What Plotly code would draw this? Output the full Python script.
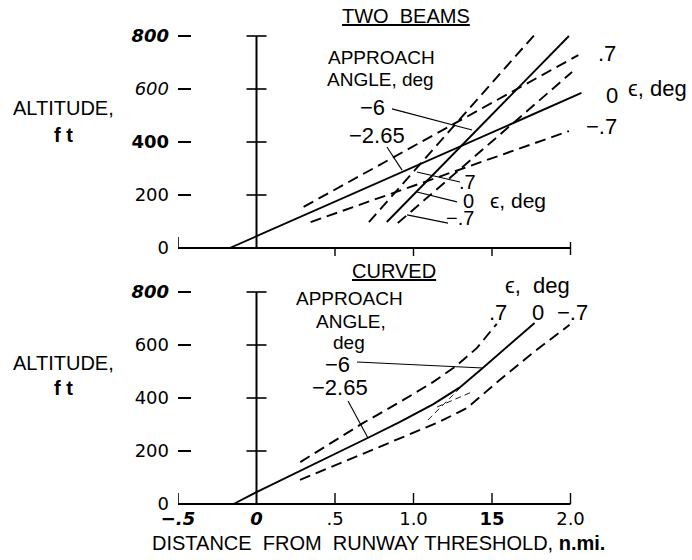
import plotly.graph_objects as go

W, H = 692, 560

# ---------------- tick data ----------------
y_tickvals = [0, 200, 400, 600, 800]
y_ticktext_top = ["0", "200", "<b>400</b>", "<i>600</i>", "<b><i>800</i></b>"]
y_ticktext_bot = ["0", "200", "400", "600", "<b><i>800</i></b>"]
x_tickvals = [-0.5, 0, 0.5, 1.0, 1.5, 2.0]
x_ticktext = ["<b><i>−.5</i></b>", "<b><i>0</i></b>", ".5", "1.0", "<b>15</b>", "2.0"]
x_minor_ticks = [0.5, 1.0, 1.5, 2.0]
y_cross_ticks = [200, 400, 600, 800]

# ---------------- TWO BEAMS (distance n.mi., altitude ft) ----------------
beam265_e0_x = [-0.17, 2.07]
beam265_e0_y = [0, 585]
beam265_ep7_x = [0.30, 2.05]
beam265_ep7_y = [155, 728]
beam265_em7_x = [0.345, 1.99]
beam265_em7_y = [98, 441]
beam6_e0_x = [0.83, 1.99]
beam6_e0_y = [98, 800]
beam6_ep7_x = [0.716, 1.77]
beam6_ep7_y = [98, 804]
beam6_em7_x = [0.90, 2.01]
beam6_em7_y = [94, 664]

# leader lines (top)
lead_top_m6_x = [0.863, 1.373]
lead_top_m6_y = [525, 445]
lead_top_m265_x = [0.831, 0.927]
lead_top_m265_y = [381, 294]
lead_top_p7_x = [1.022, 1.296]
lead_top_p7_y = [287, 249]
lead_top_0_x = [1.022, 1.277]
lead_top_0_y = [211, 174]
lead_top_m7_x = [0.959, 1.220]
lead_top_m7_y = [125, 94]

# ---------------- CURVED ----------------
curve_e0_x = [-0.146, 0, 0.711, 0.914, 1.124, 1.295, 1.441, 1.613, 1.771]
curve_e0_y = [0, 45, 250, 310, 376, 440, 513, 600, 683]
curve_ep7_x = [0.279, 0.68, 0.914, 1.124, 1.263, 1.403, 1.530]
curve_ep7_y = [158, 306, 385, 460, 517, 588, 680]
curve_em7_x = [0.277, 0.914, 1.15, 1.34, 1.422, 1.549, 1.759, 1.994]
curve_em7_y = [91, 249, 306, 362, 404, 468, 570, 676]

# thin dashed construction strokes near the transition
thin1_x = [1.092, 1.315]
thin1_y = [317, 449]
thin2_x = [1.150, 1.373]
thin2_y = [366, 423]

# leader lines (bottom)
lead_bot_m6_x = [0.640, 1.443]
lead_bot_m6_y = [536, 513]
lead_bot_m265_x = [0.583, 0.710]
lead_bot_m265_y = [389, 249]

# ---------------- layout geometry ----------------
PX_PER_NMI = 157.0
X_LEFT_PX = 178
X0 = -0.5
X1 = X0 + (W - X_LEFT_PX) / PX_PER_NMI
K = 800 / 212.0  # ft per pixel

TOP_ZERO_PX, TOP_BOT_PX = 248, 258
BOT_ZERO_PX, BOT_TOP_PX, BOT_BOT_PX = 504, 265, 506

top_range = [(TOP_ZERO_PX - TOP_BOT_PX) * K, TOP_ZERO_PX * K]
bot_range = [(BOT_ZERO_PX - BOT_BOT_PX) * K, (BOT_ZERO_PX - BOT_TOP_PX) * K]

SANS = "Liberation Sans, Arial, sans-serif"
NUMF = "DejaVu Sans, sans-serif"

fig = go.Figure()

SOLID = dict(color="black", width=1.9)
DASH = dict(color="black", width=1.9, dash="11px,6px")
LEAD = dict(color="black", width=1.1)
THIN = dict(color="black", width=0.9, dash="6px,4px")


def add(x, y, line, ax):
    xa, ya = ("x", "y") if ax == 1 else ("x2", "y2")
    fig.add_trace(go.Scatter(x=x, y=y, mode="lines", line=line, xaxis=xa, yaxis=ya,
                             hoverinfo="skip", showlegend=False))


# top
add(beam265_e0_x, beam265_e0_y, SOLID, 1)
add(beam265_ep7_x, beam265_ep7_y, DASH, 1)
add(beam265_em7_x, beam265_em7_y, DASH, 1)
add(beam6_e0_x, beam6_e0_y, SOLID, 1)
add(beam6_ep7_x, beam6_ep7_y, DASH, 1)
add(beam6_em7_x, beam6_em7_y, DASH, 1)
for lx, ly in [(lead_top_m6_x, lead_top_m6_y), (lead_top_m265_x, lead_top_m265_y),
               (lead_top_p7_x, lead_top_p7_y), (lead_top_0_x, lead_top_0_y),
               (lead_top_m7_x, lead_top_m7_y)]:
    add(lx, ly, LEAD, 1)

# bottom
add(curve_e0_x, curve_e0_y, SOLID, 2)
add(curve_ep7_x, curve_ep7_y, DASH, 2)
add(curve_em7_x, curve_em7_y, DASH, 2)
add(thin1_x, thin1_y, THIN, 2)
add(thin2_x, thin2_y, THIN, 2)
add(lead_bot_m6_x, lead_bot_m6_y, LEAD, 2)
add(lead_bot_m265_x, lead_bot_m265_y, LEAD, 2)

# ---------------- frame shapes ----------------
shapes = []
for xr, yr, down in [("x", "y", True), ("x2", "y2", False)]:
    # baseline
    shapes.append(dict(type="line", xref=xr, yref=yr, x0=X0, x1=2.0, y0=0, y1=0,
                       line=dict(color="black", width=2)))
    # vertical axis at x = 0
    shapes.append(dict(type="line", xref=xr, yref=yr, x0=0, x1=0, y0=0, y1=800,
                       line=dict(color="black", width=2)))
    for yv in y_cross_ticks:
        shapes.append(dict(type="line", xref=xr, yref=yr, xsizemode="pixel", xanchor=0,
                           x0=-10, x1=10, y0=yv, y1=yv, line=dict(color="black", width=1.6)))
    # left end tick (up)
    shapes.append(dict(type="line", xref=xr, yref=yr, ysizemode="pixel", yanchor=0,
                       x0=X0, x1=X0, y0=0, y1=11, line=dict(color="black", width=1.6)))
    for xv in x_minor_ticks:
        if down:
            y0, y1 = (-7, 6) if xv == 2.0 else (-8, 0)
        else:
            y0, y1 = (0, 11)
        shapes.append(dict(type="line", xref=xr, yref=yr, ysizemode="pixel", yanchor=0,
                           x0=xv, x1=xv, y0=y0, y1=y1, line=dict(color="black", width=1.4)))

# ---------------- text ----------------
def P(px, py):
    return px / W, 1 - py / H

labels = [
    ("<u>TWO  BEAMS</u>", 406, 16, 20, SANS),
    ("APPROACH", 381, 58, 19, SANS),
    ("ANGLE, deg", 380, 80, 19, SANS),
    ("−6", 372, 108, 22, SANS),
    ("−2.65", 377, 135, 22, SANS),
    (".7", 467, 182, 20, SANS),
    ("0", 468, 201, 20, SANS),
    ("ϵ, deg", 518, 200, 21, SANS),
    ("−.7", 460, 218, 20, SANS),
    (".7", 607, 53, 22, SANS),
    ("0", 612, 95, 22, SANS),
    ("ϵ, deg", 657, 88, 22, SANS),
    ("−.7", 601, 127, 22, SANS),
    ("<u>CURVED</u>", 394, 271, 20, SANS),
    ("ϵ,  deg", 537, 285, 22, SANS),
    (".7", 498, 312, 22, SANS),
    ("0", 538, 312, 22, SANS),
    ("−.7", 572, 312, 22, SANS),
    ("APPROACH", 349, 298, 19, SANS),
    ("ANGLE,", 351, 321, 19, SANS),
    ("deg", 349, 342, 19, SANS),
    ("−6", 337, 364, 22, SANS),
    ("−2.65", 340, 387, 22, SANS),
    ("ALTITUDE,", 63, 108, 20, SANS),
    ("<b>f t</b>", 63, 135, 20, SANS),
    ("ALTITUDE,", 63, 363, 20, SANS),
    ("<b>f t</b>", 63, 388, 20, SANS),
    ("DISTANCE  FROM  RUNWAY THRESHOLD, <b>n.mi.</b>", 378, 543, 20, SANS),
]
annotations = []
for txt, px, py, size, fam in labels:
    ax_, ay_ = P(px, py)
    annotations.append(dict(text=txt, x=ax_, y=ay_, xref="paper", yref="paper",
                             xanchor="center", yanchor="middle", showarrow=False,
                             font=dict(family=fam, size=size, color="black")))

xdom = [X_LEFT_PX / W, 1.0]
common_x = dict(domain=xdom, range=[X0, X1], showgrid=False, zeroline=False,
                showline=False, ticks="", fixedrange=True, automargin=False)
common_y = dict(showgrid=False, zeroline=False, showline=False, ticks="inside",
                ticklen=13, tickwidth=2, tickcolor="black", tickvals=y_tickvals,
                tickfont=dict(family=NUMF, size=18, color="black"),
                ticklabelstandoff=8, fixedrange=True, automargin=False)

fig.update_layout(
    width=W, height=H, autosize=False,
    margin=dict(l=0, r=0, t=0, b=0, pad=0, autoexpand=False),
    paper_bgcolor="white", plot_bgcolor="white",
    showlegend=False,
    xaxis=dict(common_x, anchor="y", showticklabels=False),
    yaxis=dict(common_y, domain=[1 - TOP_BOT_PX / H, 1.0], range=top_range,
               anchor="x", ticktext=y_ticktext_top),
    xaxis2=dict(common_x, anchor="y2", tickvals=x_tickvals, ticktext=x_ticktext,
                showticklabels=True,
                tickfont=dict(family=NUMF, size=18, color="black")),
    yaxis2=dict(common_y, domain=[1 - BOT_BOT_PX / H, 1 - BOT_TOP_PX / H],
                range=bot_range, anchor="x2", ticktext=y_ticktext_bot),
    shapes=shapes,
    annotations=annotations,
)

fig.write_html(
    "out.html",
    config={"displayModeBar": False, "staticPlot": True},
    post_script="document.body.style.margin='0';document.body.style.overflow='hidden';",
)
